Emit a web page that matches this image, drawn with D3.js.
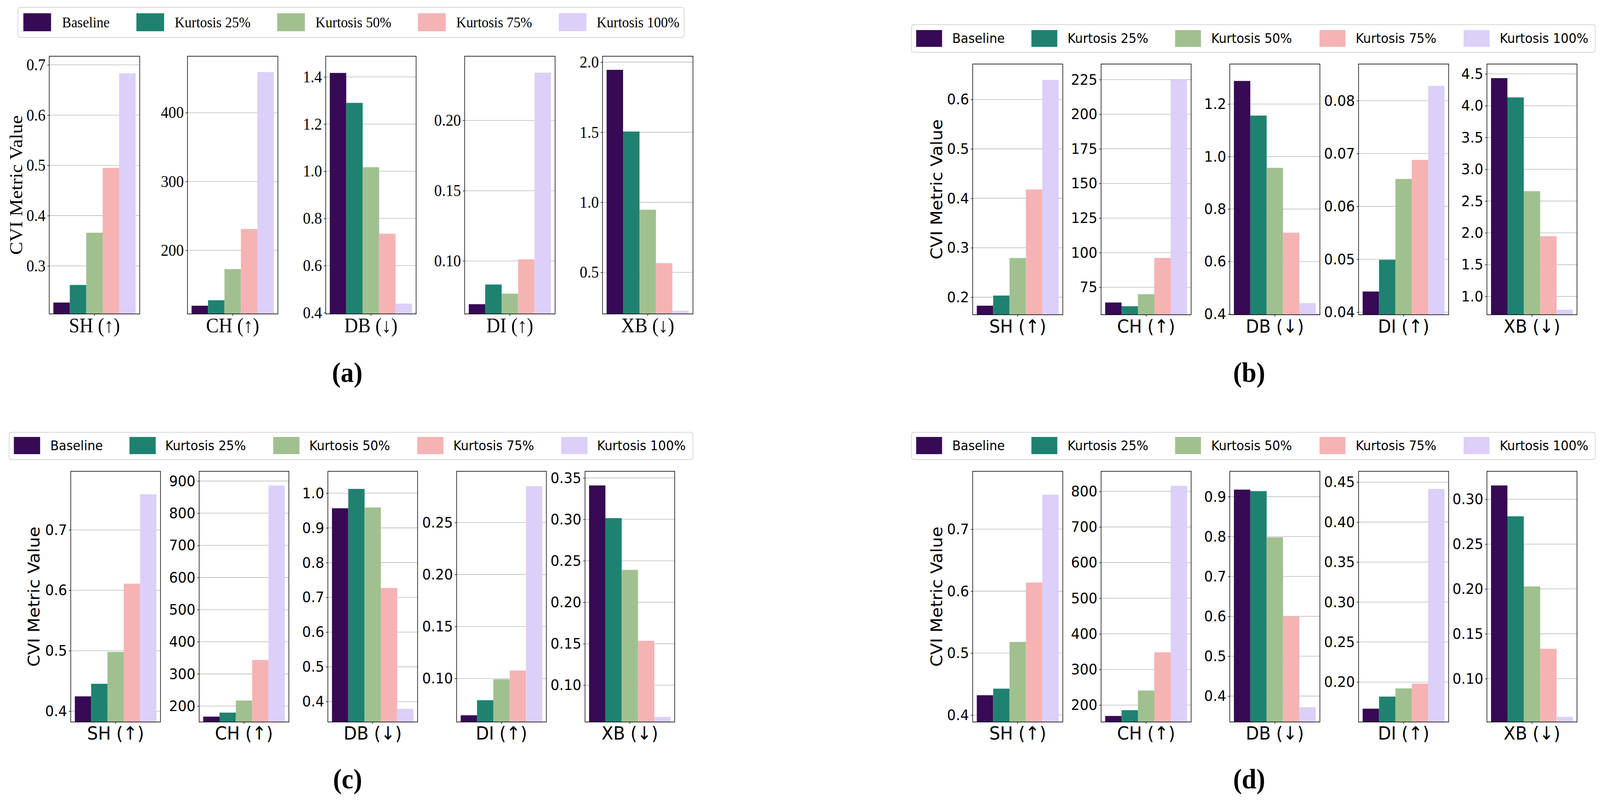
<!DOCTYPE html>
<html>
<head>
<meta charset="utf-8">
<script src="https://cdn.jsdelivr.net/npm/d3@7/dist/d3.min.js"></script>
<style>
  html, body { margin: 0; padding: 0; background: #fff; width: 100%; height: 100%; overflow: hidden; }
  svg { display: block; width: 100vw; height: 100vh; }
</style>
</head>
<body>
<svg id="chart" viewBox="0 0 4387 2059" preserveAspectRatio="none"></svg>
<script>
// ---------------- DATA ----------------
const seriesNames = ["Baseline", "Kurtosis 25%", "Kurtosis 50%", "Kurtosis 75%", "Kurtosis 100%"];
const metricNames = ["SH", "CH", "DB", "DI", "XB"];
const metricArrows = ["↑", "↑", "↓", "↑", "↓"];
const seriesColors = ["#360a54", "#1f8270", "#a0c18f", "#f6b3b4", "#dccff8"];

// values[metric][series]
const valuesA = [
  [0.227, 0.262, 0.366, 0.495, 0.683],
  [119.5, 127.5, 172.7, 231.0, 459.0],
  [1.417, 1.290, 1.017, 0.735, 0.4385],
  [0.0693, 0.0833, 0.0768, 0.1012, 0.234],
  [1.945, 1.505, 0.947, 0.566, 0.226]
];
const valuesB = [
  [0.1828, 0.2033, 0.2793, 0.4179, 0.6397],
  [64.0, 61.3, 70.0, 96.2, 225.0],
  [1.288, 1.156, 0.957, 0.710, 0.4415],
  [0.0439, 0.0499, 0.0652, 0.0688, 0.0828],
  [4.433, 4.130, 2.655, 1.946, 0.791]
];
const valuesC = [
  [0.4245, 0.4453, 0.498, 0.611, 0.759],
  [167.2, 179.7, 217.2, 343.1, 885.9],
  [0.9565, 1.0123, 0.9587, 0.7268, 0.379],
  [0.0647, 0.0792, 0.0993, 0.1077, 0.285],
  [0.3409, 0.3015, 0.2391, 0.1536, 0.0618]
];
const valuesD = [
  [0.432, 0.4426, 0.518, 0.614, 0.7556],
  [169.6, 185.9, 240.9, 348.2, 815.5],
  [0.9176, 0.9139, 0.798, 0.5996, 0.3723],
  [0.1667, 0.1818, 0.1921, 0.1981, 0.4415],
  [0.3154, 0.281, 0.2028, 0.1333, 0.0574]
];

// tick labels per metric
const ticksA = [
  ["0.3", "0.4", "0.5", "0.6", "0.7"],
  ["200", "300", "400"],
  ["0.4", "0.6", "0.8", "1.0", "1.2", "1.4"],
  ["0.10", "0.15", "0.20"],
  ["0.5", "1.0", "1.5", "2.0"]
];
const ticksB = [
  ["0.2", "0.3", "0.4", "0.5", "0.6"],
  ["75", "100", "125", "150", "175", "200", "225"],
  ["0.4", "0.6", "0.8", "1.0", "1.2"],
  ["0.04", "0.05", "0.06", "0.07", "0.08"],
  ["1.0", "1.5", "2.0", "2.5", "3.0", "3.5", "4.0", "4.5"]
];
const ticksC = [
  ["0.4", "0.5", "0.6", "0.7"],
  ["200", "300", "400", "500", "600", "700", "800", "900"],
  ["0.4", "0.5", "0.6", "0.7", "0.8", "0.9", "1.0"],
  ["0.10", "0.15", "0.20", "0.25"],
  ["0.10", "0.15", "0.20", "0.25", "0.30", "0.35"]
];
const ticksD = [
  ["0.4", "0.5", "0.6", "0.7"],
  ["200", "300", "400", "500", "600", "700", "800"],
  ["0.4", "0.5", "0.6", "0.7", "0.8", "0.9"],
  ["0.20", "0.25", "0.30", "0.35", "0.40", "0.45"],
  ["0.10", "0.15", "0.20", "0.25", "0.30"]
];
const yAxisTitle = "CVI Metric Value";
const panelLabels = ["(a)", "(b)", "(c)", "(d)"];

// ---------------- LAYOUT ----------------
const SERIF = "'Liberation Serif', 'Times New Roman', serif";
const SANS = "'DejaVu Sans', sans-serif";

const panels = [
  { values: valuesA, ticks: ticksA, label: panelLabels[0], font: SERIF,
    lefts: [135, 514, 893, 1274, 1652], w: 248, top: 144, bottom: 804,
    tickSize: 42, xlabSize: 52, ylabSize: 50, ylabX: 44, xlabY: 851,
    legend: { x0: 49, x1: 1876, y0: 19, y1: 96, pw: 76, ph: 46, py: 34,
              px: [64, 374, 760, 1146, 1532], tx: [170, 479, 865, 1251, 1636], size: 38 },
    labelX: 952, labelY: 978 },
  { values: valuesB, ticks: ticksB, label: panelLabels[1], font: SANS,
    lefts: [2667, 3019, 3372, 3725, 4077], w: 247, top: 164, bottom: 806,
    tickSize: 38, xlabSize: 47, ylabSize: 44, ylabX: 2568, xlabY: 852,
    legend: { x0: 2499, x1: 4374, y0: 63, y1: 134, pw: 71, ph: 43, py: 77,
              px: [2512, 2828, 3222, 3618, 4013], tx: [2611, 2927, 3321, 3717, 4112], size: 34 },
    labelX: 3425, labelY: 978 },
  { values: valuesC, ticks: ticksC, label: panelLabels[2], font: SANS,
    lefts: [194, 546, 899, 1252, 1604], w: 246, top: 1207, bottom: 1849,
    tickSize: 38, xlabSize: 47, ylabSize: 44, ylabX: 93, xlabY: 1894,
    legend: { x0: 25, x1: 1900, y0: 1107, y1: 1177, pw: 72, ph: 44, py: 1119,
              px: [38, 355, 749, 1144, 1539], tx: [138, 453, 848, 1243, 1637], size: 34 },
    labelX: 953, labelY: 2019 },
  { values: valuesD, ticks: ticksD, label: panelLabels[3], font: SANS,
    lefts: [2667, 3019, 3372, 3725, 4077], w: 247, top: 1207, bottom: 1849,
    tickSize: 38, xlabSize: 47, ylabSize: 44, ylabX: 2568, xlabY: 1894,
    legend: { x0: 2499, x1: 4374, y0: 1107, y1: 1177, pw: 71, ph: 44, py: 1119,
              px: [2512, 2828, 3222, 3618, 4013], tx: [2611, 2927, 3321, 3717, 4112], size: 34 },
    labelX: 3425, labelY: 2019 }
];

const svg = d3.select("#chart");
svg.append("rect").attr("width", 4387).attr("height", 2059).attr("fill", "#fff");

panels.forEach(p => {
  const g = svg.append("g");

  // legend
  const L = p.legend;
  g.append("rect")
    .attr("x", L.x0).attr("y", L.y0)
    .attr("width", L.x1 - L.x0).attr("height", L.y1 - L.y0)
    .attr("rx", 7).attr("ry", 7)
    .attr("fill", "#fff").attr("stroke", "#d6d6d6").attr("stroke-width", 2);
  seriesNames.forEach((s, i) => {
    g.append("rect")
      .attr("x", L.px[i]).attr("y", L.py)
      .attr("width", L.pw).attr("height", L.ph)
      .attr("fill", seriesColors[i]);
    g.append("text")
      .attr("x", L.tx[i]).attr("y", L.py + L.ph / 2)
      .attr("dy", "0.35em")
      .attr("font-family", p.font).attr("font-size", L.size)
      .attr("fill", "#000")
      .text(s);
  });

  // subplots
  metricNames.forEach((m, mi) => {
    const vals = p.values[mi];
    const x0 = p.lefts[mi], x1 = x0 + p.w;
    const y = d3.scaleLinear()
      .domain([d3.min(vals) * 0.9, d3.max(vals) * 1.05])
      .range([p.bottom, p.top]);
    const xl = d3.scaleLinear().domain([-0.44, 0.44]).range([x0, x1]);
    const xb = d3.scaleBand().domain(seriesNames).range([xl(-0.4), xl(0.4)]).padding(0);

    const tickLabels = p.ticks[mi];
    const tickVals = tickLabels.map(Number);

    const sg = g.append("g");

    // grid
    sg.append("g").selectAll("line")
      .data(tickVals)
      .join("line")
      .attr("x1", x0).attr("x2", x1)
      .attr("y1", d => y(d)).attr("y2", d => y(d))
      .attr("stroke", "#bdbdbd").attr("stroke-width", 1.6);

    // bars
    sg.append("g").selectAll("rect")
      .data(vals)
      .join("rect")
      .attr("x", (d, i) => xb(seriesNames[i]))
      .attr("width", xb.bandwidth())
      .attr("y", d => y(d))
      .attr("height", d => p.bottom - y(d))
      .attr("fill", (d, i) => seriesColors[i]);

    // spines
    sg.append("rect")
      .attr("x", x0).attr("y", p.top)
      .attr("width", x1 - x0).attr("height", p.bottom - p.top)
      .attr("fill", "none").attr("stroke", "#000").attr("stroke-width", 1.6);

    // y axis
    const ax = sg.append("g")
      .attr("transform", `translate(${x0},0)`)
      .call(d3.axisLeft(y).tickValues(tickVals)
        .tickFormat((d, i) => tickLabels[i])
        .tickSize(5).tickPadding(5));
    ax.select(".domain").remove();
    ax.selectAll(".tick line").attr("stroke", "#000").attr("stroke-width", 1.4);
    ax.selectAll(".tick text")
      .attr("font-family", p.font).attr("font-size", p.tickSize).attr("fill", "#000");

    // x tick
    const xc = xl(0);
    sg.append("line")
      .attr("x1", xc).attr("x2", xc)
      .attr("y1", p.bottom).attr("y2", p.bottom + 5)
      .attr("stroke", "#000").attr("stroke-width", 1.4);

    // x label
    sg.append("text")
      .attr("x", xc).attr("y", p.xlabY)
      .attr("text-anchor", "middle")
      .attr("font-family", p.font).attr("font-size", p.xlabSize)
      .attr("fill", "#000")
      .text(`${m} (${metricArrows[mi]})`);
  });

  // y label
  const yc = (p.top + p.bottom) / 2;
  g.append("text")
    .attr("transform", `translate(${p.ylabX},${yc}) rotate(-90)`)
    .attr("text-anchor", "middle").attr("dy", "0.35em")
    .attr("font-family", p.font).attr("font-size", p.ylabSize)
    .attr("fill", "#000")
    .text(yAxisTitle);

  // panel label
  g.append("text")
    .attr("x", p.labelX).attr("y", p.labelY)
    .attr("text-anchor", "middle")
    .attr("font-family", SERIF).attr("font-weight", "bold").attr("font-size", 72)
    .attr("fill", "#000")
    .text(p.label);
});
</script>
</body>
</html>
